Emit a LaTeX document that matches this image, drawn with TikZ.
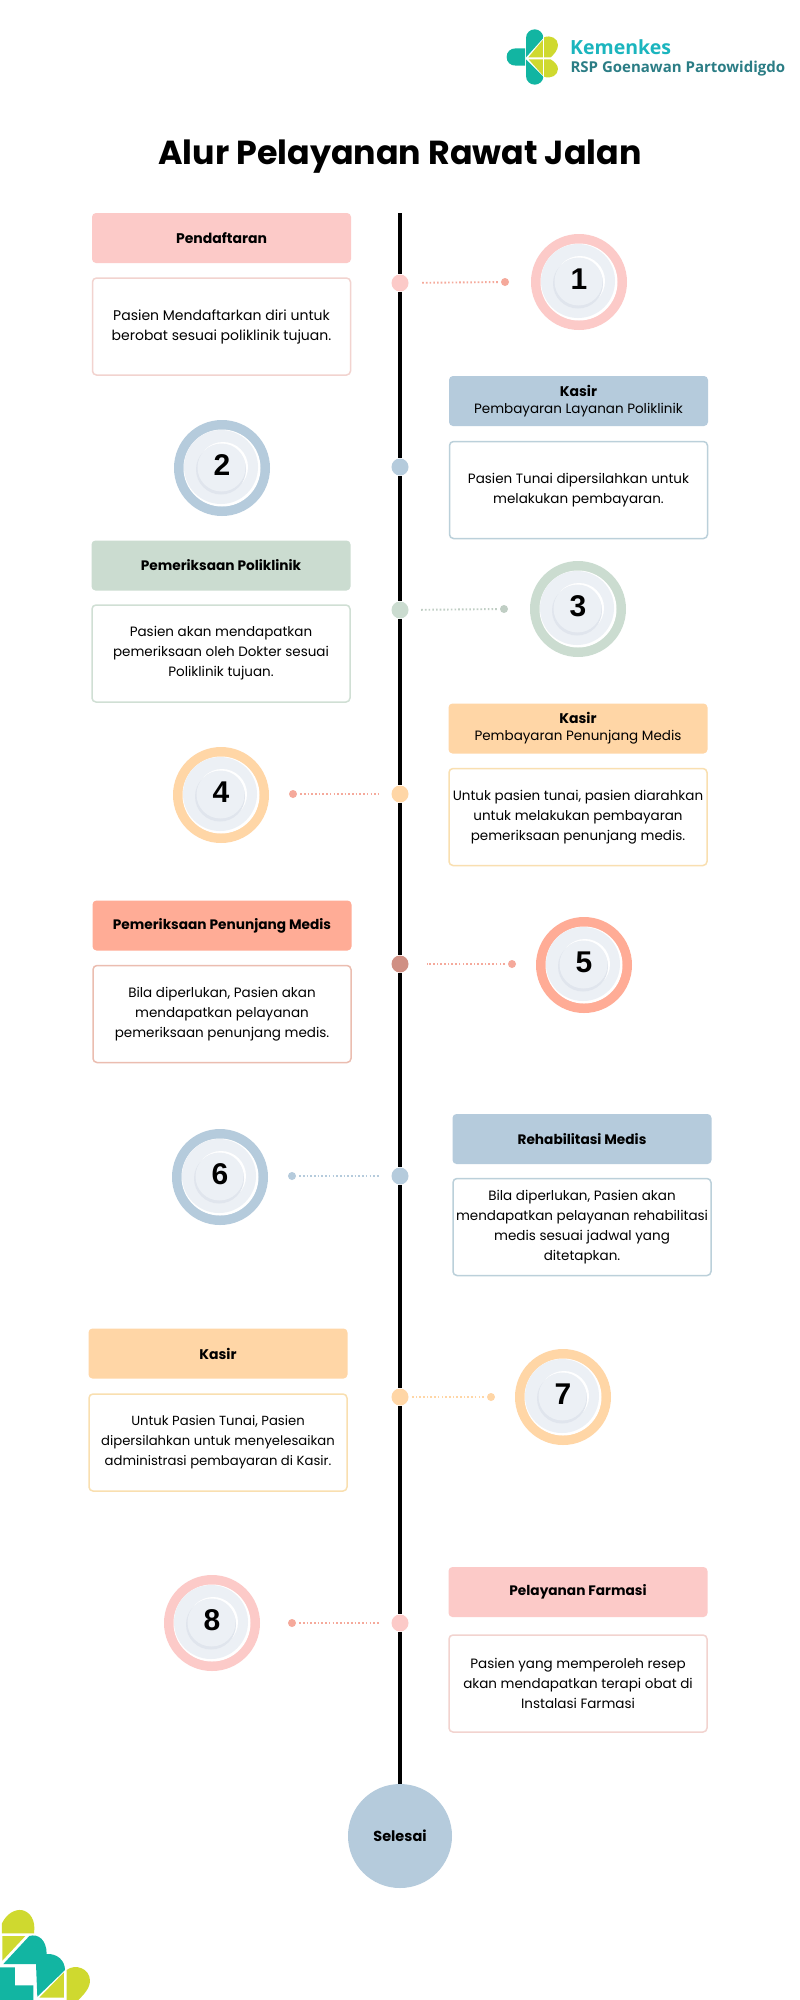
\documentclass[tikz,border=0pt]{standalone}
\usepackage{fontspec}
\setmainfont{Poppins}
\newfontfamily\logofont{Open Sans}
\newfontfamily\numfont{Liberation Sans}
\usetikzlibrary{backgrounds}
\definecolor{cpink}{HTML}{FCCAC8}
\definecolor{cblue}{HTML}{B5CBDC}
\definecolor{cgreen}{HTML}{CBDCD0}
\definecolor{corange}{HTML}{FFD6A6}
\definecolor{csalmon}{HTML}{FFAC96}
\definecolor{cdpink}{HTML}{F2D3CF}
\definecolor{cdsalmon}{HTML}{EBBDB0}
\definecolor{cdgreen}{HTML}{D0DFD4}
\definecolor{cdorange}{HTML}{F9DFB0}
\definecolor{cdblue}{HTML}{BBD0DA}
\definecolor{cplate}{HTML}{ECF0F5}
\definecolor{cshade}{HTML}{E0E5ED}
\definecolor{cteal}{HTML}{12B5A2}
\definecolor{clime}{HTML}{CFD92F}
\definecolor{cdteal}{HTML}{2B7D85}
\definecolor{ckem}{HTML}{1BB5BE}
\definecolor{cdotend}{HTML}{F5A99B}
\tikzset{
  head/.style={rectangle,rounded corners=4pt,minimum width=259,minimum height=50,inner sep=0pt,align=center,font=\fontsize{13.5}{17}\selectfont},
  desc/.style={rectangle,rounded corners=4pt,draw,line width=1.5pt,fill=white,minimum width=258,minimum height=97,inner sep=0pt,align=center,font=\fontsize{13.5}{20}\selectfont},
  spinedot/.style={circle,minimum size=17,inner sep=0pt},
  enddot/.style={circle,minimum size=8,inner sep=0pt},
  ring/.style={circle,minimum size=96,inner sep=0pt},
  dotline/.style={line width=1.9pt,dash pattern=on 1.6pt off 2.1pt,shorten >=12pt,shorten <=3pt},
  numtext/.style={font=\numfont\fontsize{30}{30}\selectfont\bfseries,inner sep=0pt}
}
\newcommand{\platedisc}[2]{% name, number
  \fill[white] (#1) circle (38.5);
  \fill[cplate] ([shift={(-1,-1)}]#1.center) circle (37);
  \fill[white] ([shift={(1,-1)}]#1.center) circle (25);
  \fill[cshade] ([shift={(-1,1.5)}]#1.center) circle (25);
  \fill[cplate] ([shift={(-0.5,-0.5)}]#1.center) circle (24);
  \node[numtext] (#1num) at ([yshift=2.5pt]#1.center) {#2};
}
\begin{document}
\begin{tikzpicture}[x=1pt,y=-1pt]
\useasboundingbox (0,0) rectangle (800,2000);

% top logo
\begin{scope}[shift={(480,0)},x=0.3333pt,y=-0.3333pt]
  \fill[cteal] (135,145) -- (108,145) .. controls (90,145) and (80,156) .. (80,171) .. controls (80,186) and (90,197) .. (108,197) -- (135,197) -- cycle;
  \fill[cteal] (138,172) -- (138,114) .. controls (138,99) and (150,88) .. (164,88) .. controls (178,88) and (190,99) .. (190,114) -- cycle;
  \fill[cteal] (138,178) -- (190,230) .. controls (190,243) and (178,254) .. (164,254) .. controls (150,254) and (138,243) .. (138,228) -- cycle;
  \fill[clime] (145,172) -- (190,118) -- (192,112) .. controls (212,104) and (234,115) .. (234,135) .. controls (234,150) and (222,163) .. (212,172) -- cycle;
  \fill[clime] (146,178) -- (212,178) .. controls (224,186) and (234,195) .. (234,207) .. controls (234,226) and (212,238) .. (192,230) -- cycle;
  \draw[white,line width=0.8pt] (190,110) -- (190,232);
  \node[anchor=west,inner sep=0pt,text=ckem,font=\logofont\fontsize{19.5}{20}\selectfont\bfseries] (logoa) at (270,142) {Kemenkes};
  \node[anchor=west,inner sep=0pt,text=cdteal,font=\logofont\fontsize{15}{16}\selectfont\bfseries] (logob) at (271,205) {RSP Goenawan Partowidigdo};
\end{scope}

% bottom logo
\begin{scope}[shift={(0,1890)},x=0.3333pt,y=-0.3333pt]
  \fill[clime] (6,130) -- (6,100) .. controls (20,70) and (45,58) .. (65,60) .. controls (90,65) and (108,90) .. (102,130) -- cycle;
  \fill[clime] (7,138) -- (76,138) -- (7,212) -- cycle;
  \fill[cteal] (10,222) -- (88,138) .. controls (115,130) and (140,150) .. (140,192) .. controls (170,190) and (195,210) .. (195,240) -- (112,320) -- (108,222) -- cycle;
  \fill[cteal] (0,232) -- (45,232) -- (45,286) -- (100,286) -- (100,330) -- (0,330) -- cycle;
  \fill[clime] (118,323) -- (192,247) -- (192,323) -- cycle;
  \fill[clime] (200,240) .. controls (225,220) and (270,235) .. (270,272) .. controls (270,295) and (250,315) .. (235,330) -- (200,330) -- cycle;
\end{scope}

\node[inner sep=0pt,font=\fontsize{33.3}{36}\selectfont\bfseries] (title) at (400,157) {Alur Pelayanan Rawat Jalan};

% spine dots
\node[spinedot,fill=cpink] (d1) at (400,283) {};
\node[spinedot,fill=cblue] (d2) at (400,467) {};
\node[spinedot,fill=cgreen] (d3) at (400,610) {};
\node[spinedot,fill=corange] (d4) at (400,794) {};
\node[spinedot,fill=cdotend!85!black] (d5) at (400,964) {};
\node[spinedot,fill=cblue] (d6) at (400,1176) {};
\node[spinedot,fill=corange] (d7) at (400,1397) {};
\node[spinedot,fill=cpink] (d8) at (400,1623) {};
\node[circle,fill=cblue,minimum size=104,inner sep=0pt,font=\fontsize{14.5}{17}\selectfont\bfseries] (selesai) at (400,1836) {Selesai};
\coordinate (spinetop) at (400,213);
\begin{scope}[on background layer]
  \fill[white] (0,0) rectangle (800,2000);
  \draw[line width=4.5pt,black] (spinetop) -- (d1) -- (d2) -- (d3) -- (d4) -- (d5) -- (d6) -- (d7) -- (d8) -- (selesai);
\end{scope}

% boxes
\node[head,fill=cpink] (h1) at (221.5,238) {\fontsize{14}{17}\selectfont\textbf{Pendaftaran}};
\node[desc,draw=cdpink,font=\fontsize{14}{20}\selectfont] (b1) at (221.5,326.5) {Pasien Mendaftarkan diri untuk\\berobat sesuai poliklinik tujuan.};
\node[head,fill=cblue] (h2) at (578.5,401) {\fontsize{14}{17}\selectfont\textbf{Kasir}\\\fontsize{13.5}{17}\selectfont Pembayaran Layanan Poliklinik};
\node[desc,draw=cdblue] (b2) at (578.5,490) {Pasien Tunai dipersilahkan untuk\\melakukan pembayaran.};
\node[head,fill=cgreen] (h3) at (221,565.5) {\fontsize{13.7}{17}\selectfont\textbf{Pemeriksaan Poliklinik}};
\node[desc,draw=cdgreen] (b3) at (221,653.5) {Pasien akan mendapatkan\\pemeriksaan oleh Dokter sesuai\\Poliklinik tujuan.};
\node[head,fill=corange] (h4) at (578,728.5) {\fontsize{14}{17}\selectfont\textbf{Kasir}\\\fontsize{13.5}{17}\selectfont Pembayaran Penunjang Medis};
\node[desc,draw=cdorange] (b4) at (578,817) {Untuk pasien tunai, pasien diarahkan\\untuk melakukan pembayaran\\pemeriksaan penunjang medis.};
\node[head,fill=csalmon] (h5) at (222,925.5) {\fontsize{13.7}{17}\selectfont\textbf{Pemeriksaan Penunjang Medis}};
\node[desc,draw=cdsalmon] (b5) at (222,1014) {Bila diperlukan, Pasien akan\\mendapatkan pelayanan\\pemeriksaan penunjang medis.};
\node[head,fill=cblue] (h6) at (582,1139) {\fontsize{13.7}{17}\selectfont\textbf{Rehabilitasi Medis}};
\node[desc,draw=cdblue] (b6) at (582,1227) {Bila diperlukan, Pasien akan\\mendapatkan pelayanan rehabilitasi\\medis sesuai jadwal yang\\ditetapkan.};
\node[head,fill=corange] (h7) at (218,1353.5) {\fontsize{14}{17}\selectfont\textbf{Kasir}};
\node[desc,draw=cdorange,font=\fontsize{13.2}{20}\selectfont] (b7) at (218,1442.5) {Untuk Pasien Tunai, Pasien\\dipersilahkan untuk menyelesaikan\\administrasi pembayaran di Kasir.};
\node[head,fill=cpink] (h8) at (578,1592) {\fontsize{13.7}{17}\selectfont\textbf{Pelayanan Farmasi}};
\node[desc,draw=cdpink] (b8) at (578,1683.5) {Pasien yang memperoleh resep\\akan mendapatkan terapi obat di\\Instalasi Farmasi};

% rings
\node[ring,fill=cpink] (r1) at (579,282) {}; \platedisc{r1}{1}
\node[ring,fill=cblue] (r2) at (222,468) {}; \platedisc{r2}{2}
\node[ring,fill=cgreen] (r3) at (578,609) {}; \platedisc{r3}{3}
\node[ring,fill=corange] (r4) at (221,795) {}; \platedisc{r4}{4}
\node[ring,fill=csalmon] (r5) at (584,965) {}; \platedisc{r5}{5}
\node[ring,fill=cblue] (r6) at (220,1177) {}; \platedisc{r6}{6}
\node[ring,fill=corange] (r7) at (563,1397) {}; \platedisc{r7}{7}
\node[ring,fill=cpink] (r8) at (212,1623) {}; \platedisc{r8}{8}

% dotted connectors
\node[enddot,fill=cdotend] (e1) at (505,282) {};
\draw[dotline,cdotend] (e1) -- (d1);
\node[enddot,fill=cgreen!85!gray] (e3) at (504,609) {};
\draw[dotline,cgreen!85!gray] (e3) -- (d3);
\node[enddot,fill=cdotend] (e4) at (293,794) {};
\draw[dotline,cdotend] (e4) -- (d4);
\node[enddot,fill=cdotend] (e5) at (512,964) {};
\draw[dotline,cdotend,shorten >=18pt] (e5) -- (d5);
\node[enddot,fill=cblue] (e6) at (292,1176) {};
\draw[dotline,cblue] (e6) -- (d6);
\node[enddot,fill=corange] (e7) at (491,1397) {};
\draw[dotline,corange,shorten >=2pt] (e7) -- (d7);
\node[enddot,fill=cdotend] (e8) at (292,1623) {};
\draw[dotline,cdotend] (e8) -- (d8);
\end{tikzpicture}
\end{document}
